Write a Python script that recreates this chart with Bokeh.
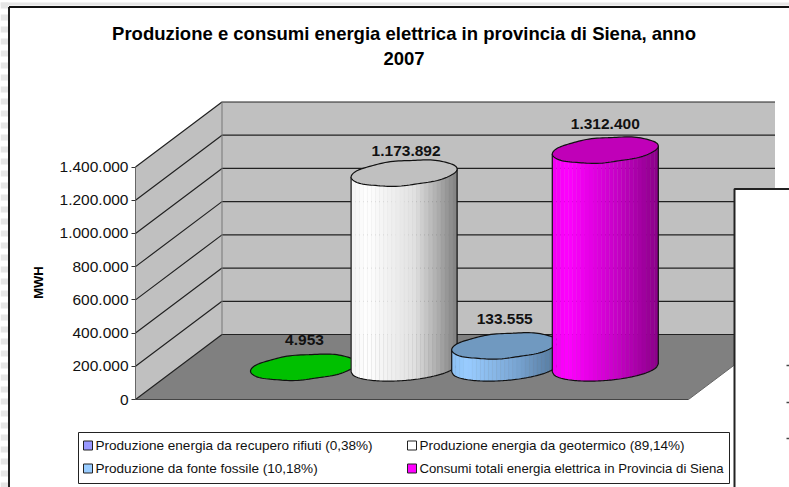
import numpy as np
from bokeh.embed import file_html
from bokeh.resources import INLINE
from bokeh.plotting import figure
from bokeh.models import Range1d, LinearAxis, FixedTicker
from bokeh.core.properties import value

# ---- data ----
title_lines = ["Produzione e consumi energia elettrica in provincia di Siena, anno", "2007"]
y_axis_label = "MWH"
tick_values = [0, 200000, 400000, 600000, 800000, 1000000, 1200000, 1400000]
tick_labels = ["0", "200.000", "400.000", "600.000", "800.000", "1.000.000", "1.200.000", "1.400.000"]
series_values = [4953, 1173892, 133555, 1312400]
data_labels = ["4.953", "1.173.892", "133.555", "1.312.400"]
legend_labels = [
    "Produzione energia da recupero rifiuti (0,38%)",
    "Produzione energia da geotermico (89,14%)",
    "Produzione da fonte fossile (10,18%)",
    "Consumi totali energia elettrica in Provincia di Siena",
]
legend_colors = ["#9999FF", "#FFFFFF", "#99CCFF", "#FF00FF"]
top_colors = ["#00C000", "#C0C0C0", "#7099C0", "#C000B8"]
# body shading stops: left edge, bright, middle, right edge
body_stops = [
    ["#00C000", "#00C000", "#00C000", "#00C000"],
    ["#F4F4F4", "#FFFFFF", "#E0E0E0", "#808080"],
    ["#8CC0F4", "#99CCFF", "#7AA6D4", "#54789C"],
    ["#F000F0", "#FF00FF", "#C800C8", "#8A0088"],
]

# ---- geometry ----
W, H = 789, 487
AX_X, AX_Y0, AX_Y1 = 135, 399, 166.5
K = 1400000 / (AX_Y0 - AX_Y1)     # value units per pixel
DX, DY = 86.5, 65                 # depth of the box
FRONT_W = 553


def vy(px):
    """value-scale coordinate for a pixel row"""
    return (AX_Y0 - px) * K


p = figure(width=W, height=H, output_backend="svg", toolbar_location=None,
           x_range=Range1d(0, W), y_range=Range1d(vy(H), vy(0)),
           min_border=0, min_border_left=0, min_border_right=0, min_border_top=0, min_border_bottom=0,
           x_axis_type=None, y_axis_type=None, outline_line_color=None,
           background_fill_color="white", border_fill_color="white")
p.grid.visible = False

# page stripes around the chart
for yy in range(0, H, 12):
    p.quad(left=[0], right=[8], top=[vy(yy + 2)], bottom=[vy(yy + 8)], fill_color="#E6E6E6", line_color=None)
p.quad(left=[0], right=[W], top=[vy(2)], bottom=[vy(5)], fill_color="#E6E6E6", line_color=None)

# chart area border
p.line([8.5, 8.5], [vy(H), vy(6.5)], line_color="#222222", line_width=2)
p.line([8.5, W], [vy(6.5), vy(6.5)], line_color="#111111", line_width=2)

# walls and floor
p.patch([AX_X, AX_X, AX_X + DX, AX_X + DX], [vy(AX_Y0), vy(AX_Y1), vy(AX_Y1 - DY), vy(AX_Y0 - DY)],
        fill_color="#C0C0C0", line_color=None)
p.patch([AX_X + DX, AX_X + DX, AX_X + DX + FRONT_W, AX_X + DX + FRONT_W],
        [vy(AX_Y0 - DY), vy(AX_Y1 - DY), vy(AX_Y1 - DY), vy(AX_Y0 - DY)],
        fill_color="#C0C0C0", line_color=None)
p.patch([AX_X, AX_X + DX, AX_X + DX + FRONT_W, AX_X + FRONT_W],
        [vy(AX_Y0), vy(AX_Y0 - DY), vy(AX_Y0 - DY), vy(AX_Y0)],
        fill_color="#808080", line_color=None)

# gridlines on the walls
for v in tick_values:
    p.line([AX_X, AX_X + DX, AX_X + DX + FRONT_W], [v, v + DY * K, v + DY * K],
           line_color="#222222", line_width=1.2)
p.line([AX_X, AX_X + FRONT_W], [0, 0], line_color="#444444", line_width=1.2)
p.line([AX_X + DX, AX_X + DX], [DY * K, 1400000 + DY * K], line_color="#777777", line_width=1)
p.line([AX_X + FRONT_W, AX_X + DX + FRONT_W], [0, DY * K], line_color="#666666", line_width=1)

# value axis
ax = LinearAxis(fixed_location=AX_X, ticker=FixedTicker(ticks=tick_values), bounds=(0, 1400000),
                major_label_overrides={v: s for v, s in zip(tick_values, tick_labels)})
ax.major_label_text_font = "Liberation Sans"
ax.major_label_text_font_size = "15.5px"
ax.major_label_text_color = "#111111"
ax.major_label_standoff = 3
ax.major_tick_in = 0
ax.major_tick_out = 4
ax.minor_tick_line_color = None
ax.axis_line_color = "#666666"
ax.major_tick_line_color = "#333333"
p.add_layout(ax, "left")


def hex2rgb(c):
    return np.array([int(c[i:i + 2], 16) for i in (1, 3, 5)], float)


def shade(stops, t):
    pos = [0, 0.15, 0.6, 1]
    rgb = [np.interp(t, pos, [hex2rgb(s)[k] for s in stops]) for k in range(3)]
    return "#%02X%02X%02X" % tuple(int(round(c)) for c in rgb)


def ellipse(cx, cy_px, a=53, b=12.5, tilt=-4.0):
    t = np.linspace(0, 2 * np.pi, 121)
    wob = 0.35 * np.sin(7 * t + 0.6 + cx)
    xs = cx + a * np.cos(t)
    ys = cy_px + (b + wob) * np.sin(t) + tilt * np.cos(t)
    return xs, ys


CENTER0, STEP, FLOOR_PX = 303, 100.6, 367.5
A, B, TILT = 53, 12.5, -4.0
LABEL_UP = [27, 22, 27, 26]
LABEL_DX = [1, 2, 0, 0]
cx_list = [CENTER0 + STEP * i for i in range(len(series_values))]

for i, val in enumerate(series_values):
    cx = cx_list[i]
    h_px = val / K
    top_px = FLOOR_PX - h_px
    n = 26
    edges = np.linspace(-A, A, n + 1)
    def low(x):
        return FLOOR_PX + B * np.sqrt(max(0, 1 - (x / A) ** 2)) + TILT * x / A
    def up(x):
        return top_px + TILT * x / A
    if h_px > 2:
        for j in range(n):
            x0, x1 = edges[j], edges[j + 1]
            xm = (x0 + x1) / 2
            col = shade(body_stops[i], (xm + A) / (2 * A))
            p.patch([cx + x0, cx + x1, cx + x1, cx + x0],
                    [vy(up(x0)), vy(up(x1)), vy(low(x1)), vy(low(x0))],
                    fill_color=col, line_color=col, line_width=0.3)
        xe = np.linspace(-A, A, 61)
        p.line(cx + xe, [vy(low(x)) for x in xe], line_color="#111111", line_width=1.2)
        p.line([cx - A, cx - A], [vy(up(-A)), vy(low(-A))], line_color="#111111", line_width=1.2)
        p.line([cx + A, cx + A], [vy(up(A)), vy(low(A))], line_color="#111111", line_width=1.2)
    xs, ys = ellipse(cx, top_px, A, B, TILT)
    p.patch(xs, [vy(y) for y in ys], fill_color=top_colors[i], line_color="#111111", line_width=1.2)
    p.text([cx + LABEL_DX[i]], [vy(top_px - LABEL_UP[i])], text=[data_labels[i]], text_align="center", text_baseline="middle",
           text_font=value("Liberation Sans"), text_font_style="bold", text_font_size="15.5px", text_color="#111111")

# title and axis name
for yy, line in zip([33, 58], title_lines):
    p.text([403.5], [vy(yy)], text=[line], text_align="center", text_baseline="middle",
           text_font=value("Liberation Sans"), text_font_style="bold", text_font_size="18.5px", text_color="#000000")
p.text([38], [vy(282)], text=[y_axis_label], angle=np.pi / 2, text_align="center", text_baseline="middle",
       text_font=value("Liberation Sans"), text_font_style="bold", text_font_size="13px", text_color="#000000")

# legend box
p.quad(left=[78], right=[729], top=[vy(432)], bottom=[vy(483)], fill_color="white", line_color="#222222", line_width=1)
leg_x = [83, 407, 83, 407]
leg_y = [445, 445, 468, 468]
leg_font = ["13.55px", "13.5px", "13.55px", "13.2px"]
for lx, ly, c, s, fs in zip(leg_x, leg_y, legend_colors, legend_labels, leg_font):
    p.quad(left=[lx], right=[lx + 9], top=[vy(ly - 4.5)], bottom=[vy(ly + 4.5)], fill_color=c, line_color="#222222", line_width=1)
    p.text([lx + 12], [vy(ly)], text=[s], text_align="left", text_baseline="middle",
           text_font=value("Liberation Sans"), text_font_size=fs, text_color="#111111")

# white sheet overlapping the chart on the right
p.quad(left=[734], right=[W + 5], top=[vy(188.5)], bottom=[vy(H + 5)], fill_color="white", line_color="#222222", line_width=2)
for yy in [365, 402, 438]:
    p.line([786, 789], [vy(yy), vy(yy)], line_color="#444444", line_width=1.5)
p.text([762], [vy(481)], text=["T"], text_align="center", text_baseline="top",
       text_font=value("Liberation Sans"), text_font_size="22px", text_color="#222222")

open("out.html", "w").write(file_html(p, INLINE))
